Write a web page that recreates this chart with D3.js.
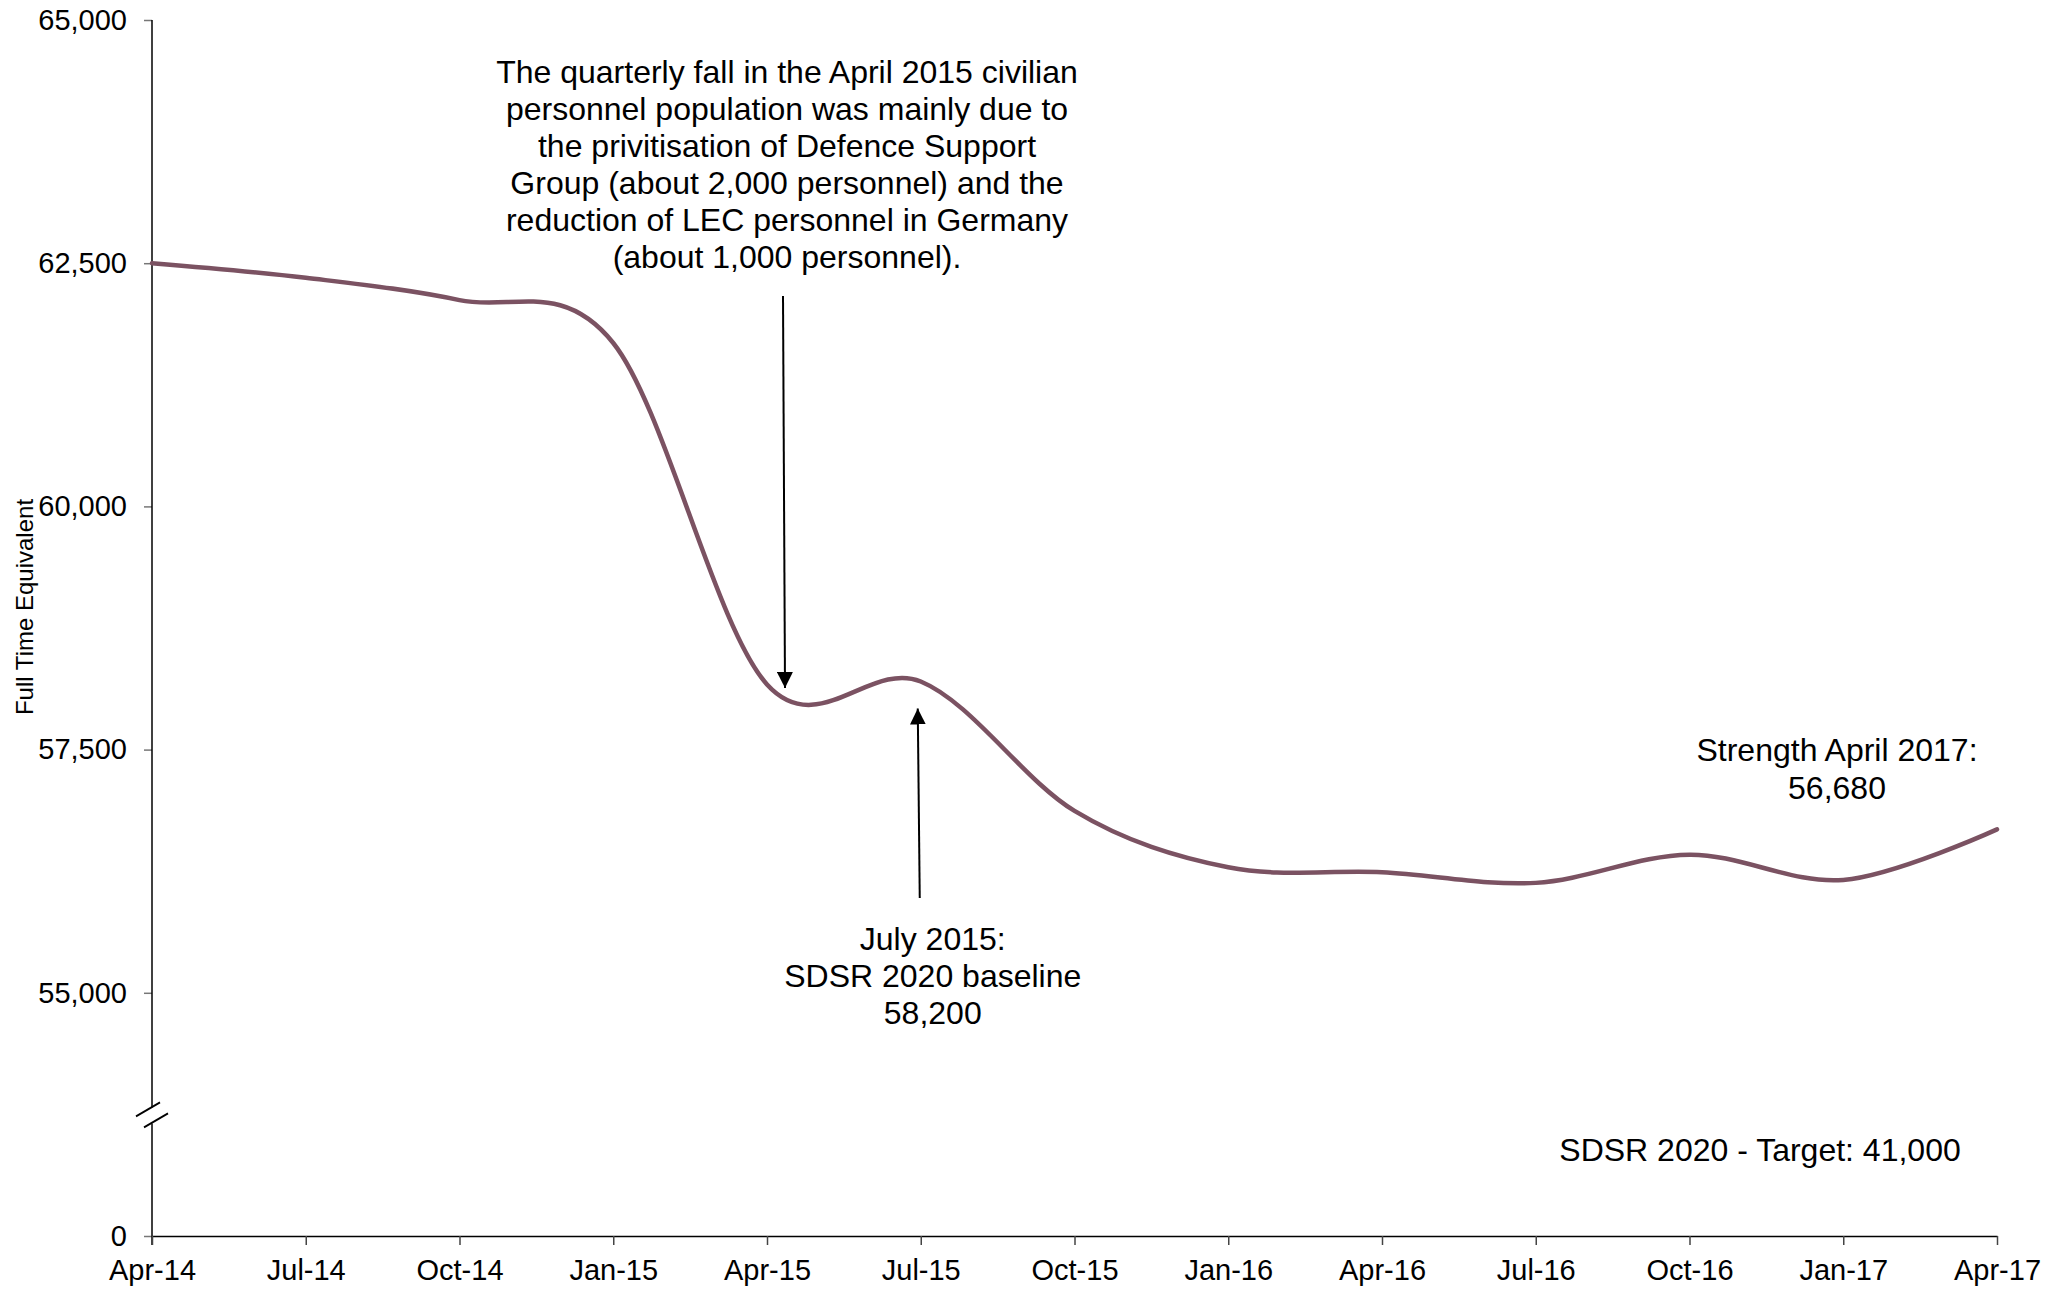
<!DOCTYPE html>
<html>
<head>
<meta charset="utf-8">
<script src="https://cdn.jsdelivr.net/npm/d3@7"></script>
<style>
  html, body { margin: 0; padding: 0; background: #fff; }
  svg { display: block; font-family: "Liberation Sans", Arial, sans-serif; }
</style>
</head>
<body>
<script>
// Quarterly civilian personnel strength (full time equivalent)
const categories = ["Apr-14","Jul-14","Oct-14","Jan-15","Apr-15","Jul-15","Oct-15",
                    "Jan-16","Apr-16","Jul-16","Oct-16","Jan-17","Apr-17"];
const fte = [62500, 62350, 62120, 61680, 58170, 58200, 56870,
             56290, 56240, 56130, 56420, 56160, 56680];

// The value axis is broken: its lowest tick stands for zero
const yTickValues = [52500, 55000, 57500, 60000, 62500, 65000];
const yTickLabels = ["0", "55,000", "57,500", "60,000", "62,500", "65,000"];
const breakValue = 53750;

const baselineIndex = 5;   // July 2015
const latestIndex = 12;    // April 2017
const targetValue = 41000;

const W = 2065, H = 1289;
const svg = d3.select("body").append("svg").attr("width", W).attr("height", H);

const x = d3.scalePoint(categories, [152, 1997]);
const y = d3.scaleLinear([52500, 65000], [1236, 20]);
const fmt = d3.format(",");

// Y axis
const yAxis = svg.append("g").attr("transform", `translate(${x(categories[0])},0)`)
  .call(d3.axisLeft(y).tickValues(yTickValues)
    .tickFormat((d, i) => yTickLabels[i]).tickSize(8).tickSizeOuter(0).tickPadding(17));
yAxis.select(".domain").remove();
yAxis.selectAll(".tick line").attr("stroke", "#777").attr("stroke-width", 1.5);
yAxis.selectAll(".tick text").attr("font-size", 29).attr("fill", "#000")
  .attr("font-family", "'Liberation Sans', Arial, sans-serif");

// Y axis line with a break
const x0 = x(categories[0]);
const yb = y(breakValue);
svg.append("line").attr("x1", x0).attr("x2", x0).attr("y1", y(65000)).attr("y2", yb - 7)
  .attr("stroke", "#000").attr("stroke-width", 1.5);
svg.append("line").attr("x1", x0).attr("x2", x0).attr("y1", yb + 9).attr("y2", y(52500) + 9)
  .attr("stroke", "#000").attr("stroke-width", 1.5);
[-5, 6].forEach(o => {
  svg.append("line")
    .attr("x1", x0 - 16 + (o > 0 ? 8 : 0)).attr("y1", yb + o + 7)
    .attr("x2", x0 + 8 + (o > 0 ? 8 : 0)).attr("y2", yb + o - 7)
    .attr("stroke", "#000").attr("stroke-width", 1.8);
});

// X axis
const xAxis = svg.append("g").attr("transform", `translate(0,${y(52500)})`)
  .call(d3.axisBottom(x).tickSize(9).tickSizeOuter(0).tickPadding(14));
xAxis.select(".domain").attr("stroke", "#000").attr("stroke-width", 1.5);
xAxis.selectAll(".tick line").attr("stroke", "#444").attr("stroke-width", 1.5);
xAxis.selectAll(".tick text").attr("font-size", 29).attr("fill", "#000")
  .attr("font-family", "'Liberation Sans', Arial, sans-serif");

// Axis title
svg.append("text")
  .attr("transform", `translate(33,607) rotate(-90)`)
  .attr("text-anchor", "middle").attr("font-size", 24).attr("fill", "#000")
  .text("Full Time Equivalent");

// Smoothed strength line
const line = d3.line()
  .x((d, i) => x(categories[i]))
  .y(d => y(d))
  .curve(d3.curveCardinal.tension(0));
svg.append("path").datum(fte)
  .attr("d", line)
  .attr("fill", "none").attr("stroke", "#7b5262").attr("stroke-width", 4.5)
  .attr("stroke-linecap", "round");

// Arrow marker
svg.append("defs").append("marker")
  .attr("id", "arrowhead").attr("viewBox", "0 0 10 10")
  .attr("refX", 10).attr("refY", 5)
  .attr("markerWidth", 8).attr("markerHeight", 8)
  .attr("markerUnits", "strokeWidth").attr("orient", "auto")
  .append("path").attr("d", "M0,0 L10,5 L0,10 Z").attr("fill", "#000");

function textBlock(lines, cx, baseline, size, lh) {
  const t = svg.append("text").attr("text-anchor", "middle")
    .attr("font-size", size).attr("fill", "#000");
  lines.forEach((s, i) => t.append("tspan").attr("x", cx).attr("y", baseline + i * lh).text(s));
}

// April 2015 fall annotation
const xApr15 = x(categories[4]);
textBlock([
  "The quarterly fall in the April 2015 civilian",
  "personnel population was mainly due to",
  "the privitisation of Defence Support",
  "Group (about 2,000 personnel) and the",
  "reduction of LEC personnel in Germany",
  "(about 1,000 personnel)."
], xApr15 + 20, 83, 32, 36.9);
svg.append("line")
  .attr("x1", xApr15 + 16).attr("y1", 296)
  .attr("x2", xApr15 + 18).attr("y2", 688)
  .attr("stroke", "#000").attr("stroke-width", 2).attr("marker-end", "url(#arrowhead)");

// Baseline annotation
const xJul15 = x(categories[baselineIndex]);
svg.append("line")
  .attr("x1", xJul15 - 1).attr("y1", 898)
  .attr("x2", xJul15 - 3).attr("y2", y(fte[baselineIndex]) + 27)
  .attr("stroke", "#000").attr("stroke-width", 2).attr("marker-end", "url(#arrowhead)");
textBlock(["July 2015:", "SDSR 2020 baseline", fmt(fte[baselineIndex])],
  xJul15 + 12, 950, 32, 36.9);

// Latest strength annotation
textBlock(["Strength April 2017:", fmt(fte[latestIndex])],
  x(categories[latestIndex]) - 160, 761, 32, 37.5);

// Target annotation
textBlock(["SDSR 2020 - Target: " + fmt(targetValue)],
  x(categories[latestIndex]) - 237, 1161, 32, 36.9);
</script>
</body>
</html>
